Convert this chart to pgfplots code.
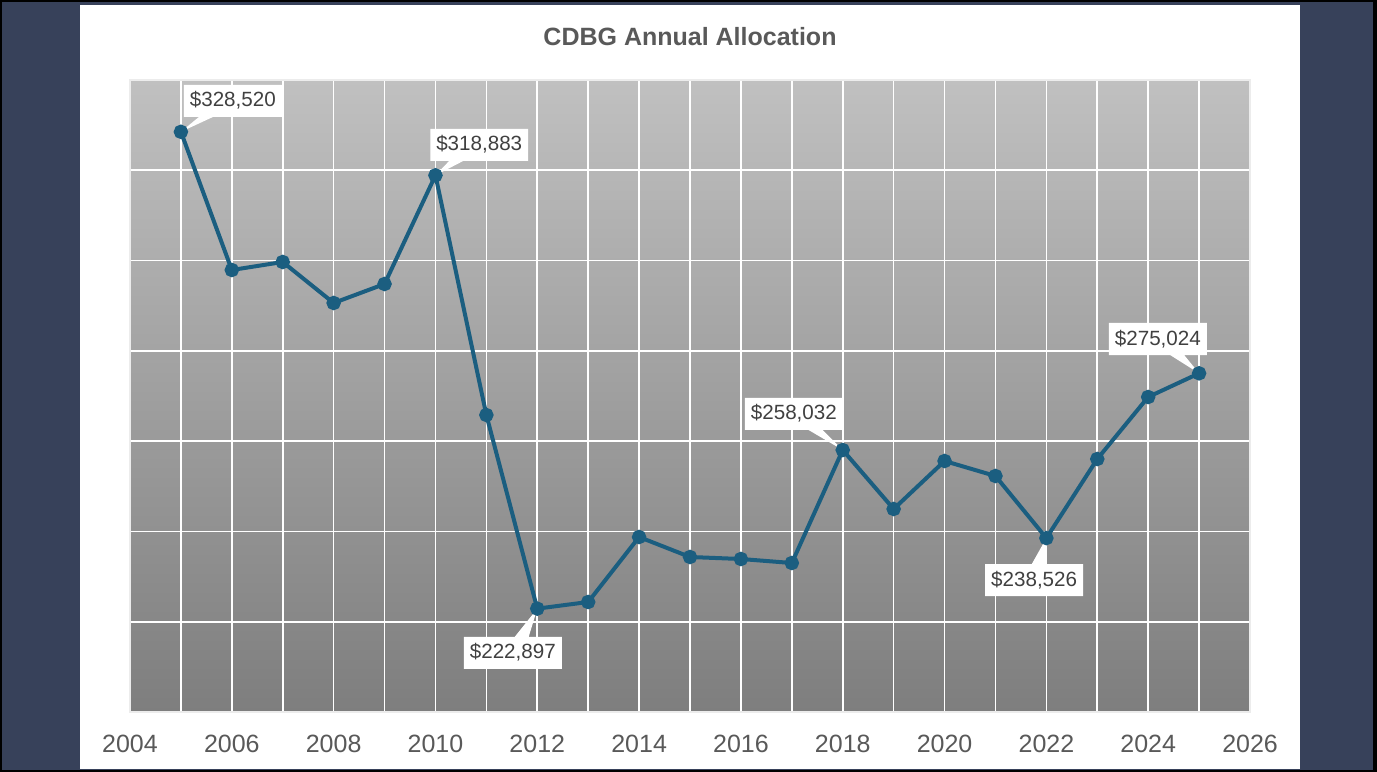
\documentclass[border=0pt]{standalone}
\usepackage{fontspec}
\setmainfont{Liberation Sans}
\usepackage{pgfplots}
\pgfplotsset{compat=1.18}
\usetikzlibrary{shapes.callouts}
\definecolor{navy}{RGB}{55,65,90}
\definecolor{linec}{RGB}{27,94,128}
\definecolor{tickc}{RGB}{89,89,89}
\definecolor{labc}{RGB}{64,64,64}
\definecolor{bgtop}{RGB}{192,192,192}
\definecolor{bgbot}{RGB}{126,126,126}
\tikzset{lbl/.style={rectangle callout, fill=white, draw=none, text=labc,
  font=\fontsize{10.3bp}{12bp}\selectfont, inner xsep=3bp, inner ysep=3.5bp,
  text height=7.5bp, text depth=1.5bp, callout pointer width=7bp}}
\begin{document}
\begin{tikzpicture}
\path[use as bounding box] (0bp,0bp) rectangle (688.5bp,386bp);
\fill[black] (0bp,0bp) rectangle (688.5bp,386bp);
\fill[navy] (1bp,1bp) rectangle (686.5bp,385bp);
\fill[white] (40bp,1.5bp) rectangle (650bp,383.5bp);
\node[font=\bfseries\fontsize{12.5bp}{15bp}\selectfont, text=tickc] at (345bp,367.5bp) {CDBG Annual Allocation};
\begin{axis}[
  at={(65bp,30bp)}, anchor=south west,
  width=560bp, height=316bp, scale only axis,
  xmin=2004, xmax=2026, ymin=200000, ymax=340000,
  xtick={2004,2006,...,2026},
  minor xtick={2005,2007,...,2025},
  ytick={200000,220000,...,340000},
  yticklabel=\empty,
  scaled y ticks=false,
  xmajorgrids, xminorgrids, ymajorgrids,
  grid style={white, line width=0.8bp},
  minor grid style={white, line width=0.8bp},
  major tick length=0pt, minor tick length=0pt,
  axis line style={draw=white!85!gray, line width=0.8bp},
  axis background/.style={top color=bgtop, bottom color=bgbot},
  xticklabel style={font=\fontsize{12.5bp}{15bp}\selectfont, text=tickc, yshift=-8bp},
  /pgf/number format/assume math mode=true,
  /pgf/number format/1000 sep={},
  clip=false,
]
\addplot[color=linec, line width=2bp, mark=*, mark size=2.6bp, mark options={fill=linec, draw=linec}]
coordinates {
(2005,328520) (2006,297911) (2007,299683) (2008,290603) (2009,294810)
(2010,318883) (2011,265791) (2012,222897) (2013,224367) (2014,238765)
(2015,234335) (2016,233892) (2017,233006) (2018,258032) (2019,244968)
(2020,255600) (2021,252278) (2022,238526) (2023,256044) (2024,269778)
(2025,275024)
};
\node[lbl, callout absolute pointer={(axis cs:2005,328520)}] at (axis cs:2006.02,335348) {\$328,520};
\node[lbl, callout absolute pointer={(axis cs:2010,318883)}] at (axis cs:2010.86,325601) {\$318,883};
\node[lbl, callout absolute pointer={(axis cs:2012,222897)}] at (axis cs:2011.52,213070) {\$222,897};
\node[lbl, callout absolute pointer={(axis cs:2018,258032)}] at (axis cs:2017.04,266013) {\$258,032};
\node[lbl, callout absolute pointer={(axis cs:2022,238526)}] at (axis cs:2021.76,229240) {\$238,526};
\node[lbl, callout absolute pointer={(axis cs:2025,275024)}] at (axis cs:2024.19,282626) {\$275,024};
\end{axis}
\end{tikzpicture}
\end{document}
